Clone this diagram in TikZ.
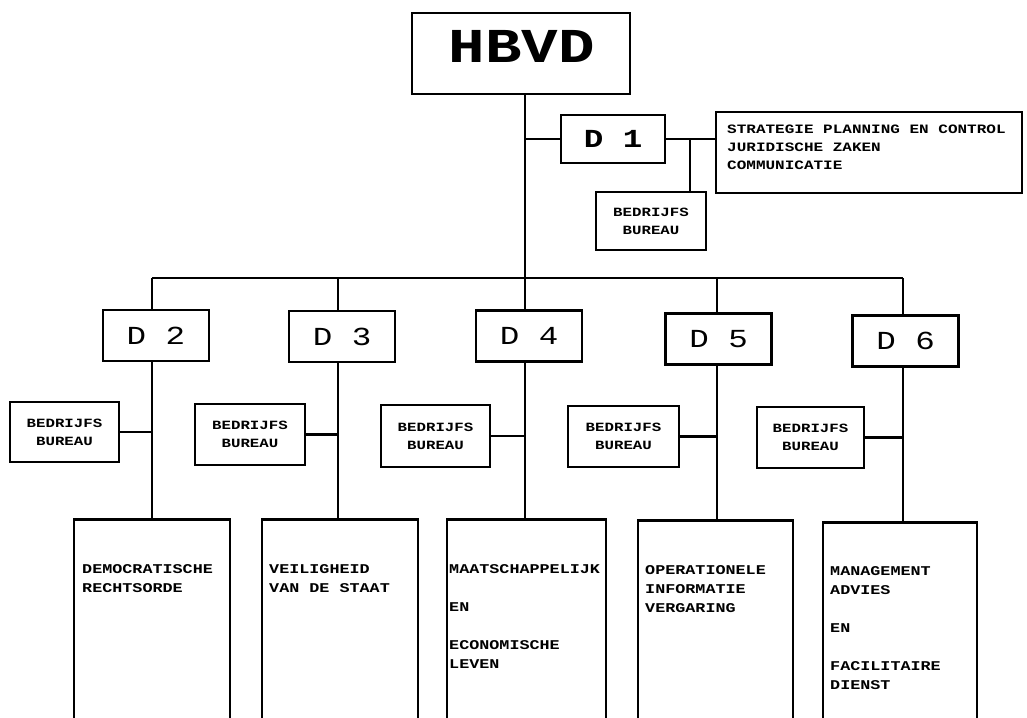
\documentclass[tikz,border=0pt]{standalone}
\usepackage{fontspec}
\newfontfamily\mono[FakeStretch=1.25]{Liberation Mono}
\begin{document}
\begin{tikzpicture}[x=1pt,y=-1pt,
  box/.style={draw,line width=2.6pt,inner sep=0pt},
  conn/.style={line width=2.6pt},
  dbox/.style={box,minimum width=106pt,minimum height=51pt,font=\mono\fontsize{26}{26}\selectfont},
  bbox/.style={box,minimum width=109pt,minimum height=60pt,align=center,font=\mono\bfseries\fontsize{12.6}{18}\selectfont},
  mbox/.style={box,minimum width=156pt,minimum height=260pt,anchor=north},
  mtext/.style={anchor=north west,inner sep=0pt,align=left,font=\mono\bfseries\fontsize{13.4}{19}\selectfont},
]
\clip (0,0) rectangle (1027,717);
\fill[white] (0,0) rectangle (1027,717);

% top
\node[box,minimum width=218pt,minimum height=81pt] (hbvd) at (521,53.5) {};
\node[inner sep=0pt,font=\mono\bfseries\fontsize{48.7}{49}\selectfont] (hbvdt) at (522,46) {HBVD};

\node[dbox,minimum width=104pt,minimum height=48pt,font=\mono\bfseries\fontsize{26}{26}\selectfont] (d1) at (613,139) {D 1};
\node[box,minimum width=306pt,minimum height=81pt] (strat) at (869,152.5) {};
\node[mtext,font=\mono\bfseries\fontsize{12.8}{18}\selectfont] (strat text) at (727,125) {STRATEGIE PLANNING EN CONTROL\\JURIDISCHE ZAKEN\\COMMUNICATIE};
\node[bbox,minimum width=110pt,minimum height=58pt] (b1) at (651,221) {BEDRIJFS\\BUREAU};

\coordinate (trunk) at (525,278);
\coordinate (j1) at (690,139);
\draw[conn] (hbvd.south -| trunk) -- (trunk);
\draw[conn] (d1.west -| trunk) -- (d1.west);
\draw[conn] (d1.east) -- (d1.east -| strat.west);
\draw[conn] (j1) -- (j1 |- b1.north);

% bar
\coordinate (c2) at (152,278);
\coordinate (c3) at (338,278);
\coordinate (c4) at (525,278);
\coordinate (c5) at (717,278);
\coordinate (c6) at (903,278);
\draw[conn] (c2) -- (c6);

% directorates
\node[dbox] (d2) at (156,335.5) {D 2};
\node[dbox] (d3) at (342,336.5) {D 3};
\node[dbox] (d4) at (529,336) {D 4};
\node[dbox] (d5) at (718.5,339) {D 5};
\node[dbox] (d6) at (905.5,341) {D 6};

% bureaus
\node[bbox] (b2) at (64.5,432) {BEDRIJFS\\BUREAU};
\node[bbox,minimum width=110pt,minimum height=61pt] (b3) at (250,434.5) {BEDRIJFS\\BUREAU};
\node[bbox,minimum height=62pt] (b4) at (435.5,436) {BEDRIJFS\\BUREAU};
\node[bbox,minimum width=111pt,minimum height=61pt] (b5) at (623.5,436.5) {BEDRIJFS\\BUREAU};
\node[bbox,minimum width=107pt,minimum height=61pt] (b6) at (810.5,437.5) {BEDRIJFS\\BUREAU};

% main boxes
\node[mbox] (m2) at (152,518) {};
\node[mbox] (m3) at (340,518) {};
\node[mbox,minimum width=159pt] (m4) at (526.5,518) {};
\node[mbox,minimum width=155pt] (m5) at (715.5,519) {};
\node[mbox,minimum width=154pt] (m6) at (900,521) {};

\node[mtext] (t2) at (82,564) {DEMOCRATISCHE\\RECHTSORDE};
\node[mtext] (t3) at (269,564) {VEILIGHEID\\VAN DE STAAT};
\node[mtext] (t4) at (449,564) {MAATSCHAPPELIJK\\[19pt]EN\\[19pt]ECONOMISCHE\\LEVEN};
\node[mtext] (t5) at (645,565) {OPERATIONELE\\INFORMATIE\\VERGARING};
\node[mtext] (t6) at (830,566) {MANAGEMENT\\ADVIES\\[19pt]EN\\[19pt]FACILITAIRE\\DIENST};

% connectors
\foreach \i in {2,...,6}{
  \draw[conn] (c\i) -- (c\i |- d\i.north);
  \draw[conn] (c\i |- d\i.south) -- (c\i |- m\i.north);
  \draw[conn] (b\i.east) -- (b\i.east -| c\i);
}
\end{tikzpicture}
\end{document}
